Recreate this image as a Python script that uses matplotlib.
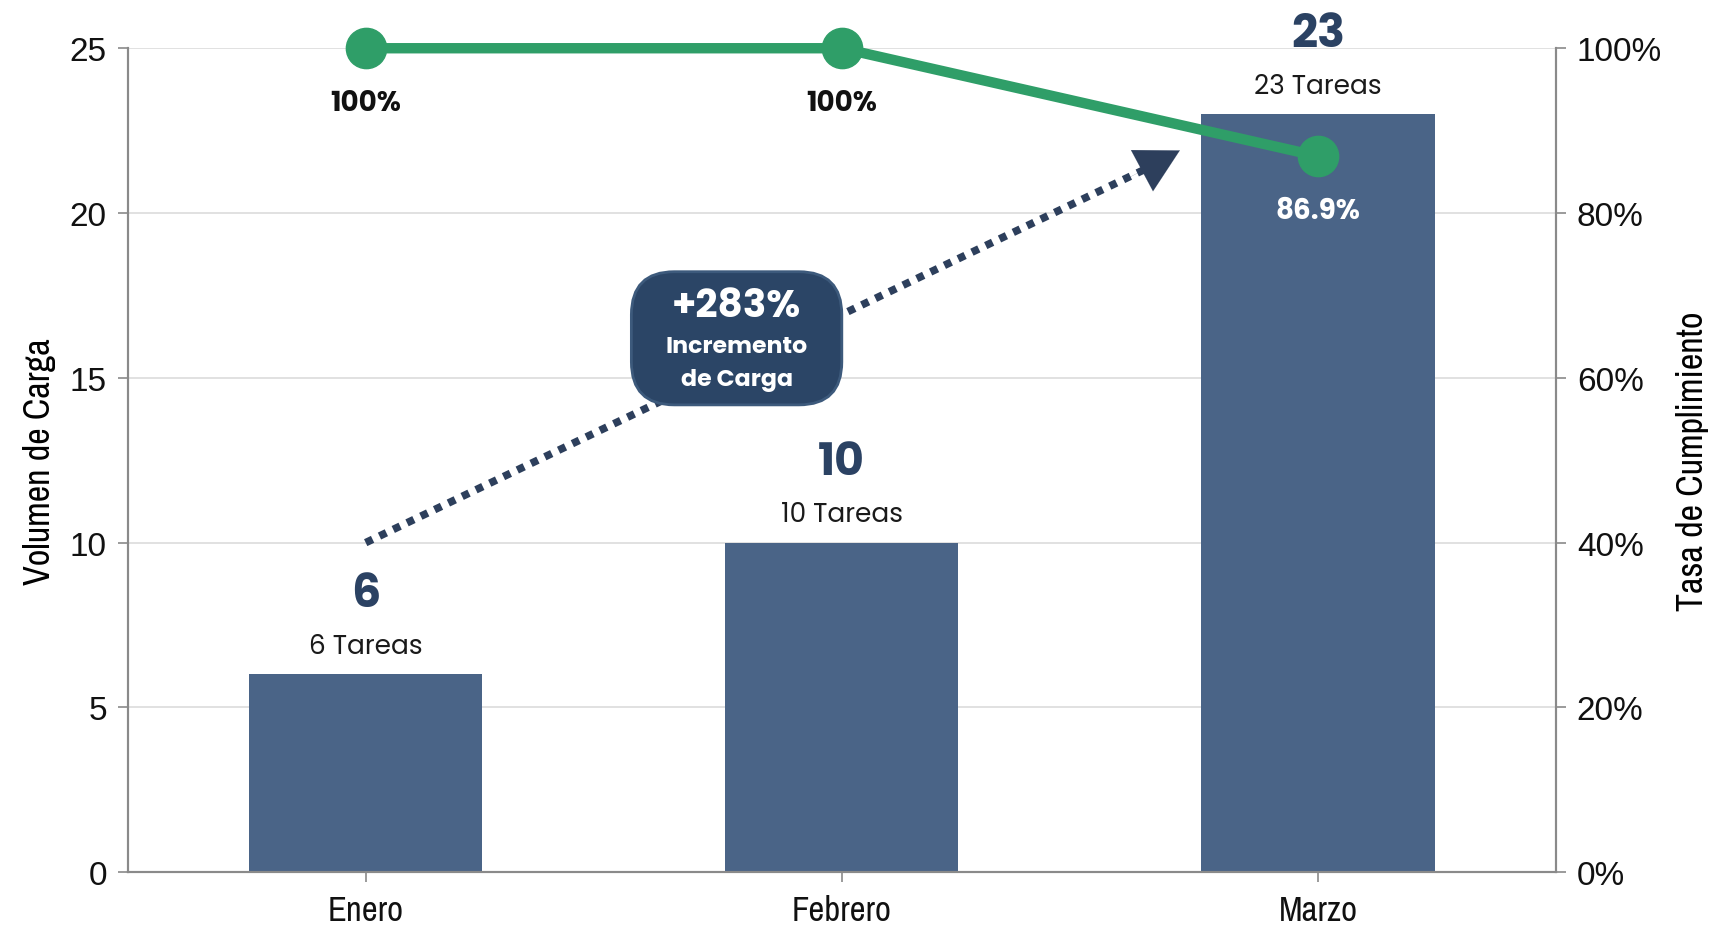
import matplotlib
matplotlib.use('Agg')
import matplotlib.pyplot as plt
from matplotlib.patches import FancyBboxPatch

# data
months = ['Enero', 'Febrero', 'Marzo']
tasks = [6, 10, 23]
completion = [100, 100, 86.9]
completion_labels = ['100%', '100%', '86.9%']
left_ticks = [0, 5, 10, 15, 20, 25]
right_ticks = [0, 20, 40, 60, 80, 100]
growth_label = '+283%'
growth_text = ['Incremento', 'de Carga']

bar_color = '#4a6487'
green = '#2f9e68'
navy = '#2b4566'
dots_color = '#2d3f5c'
axis_gray = '#8a8a8a'
label_font = ['Poppins', 'Open Sans', 'DejaVu Sans']
tick_font = ['Liberation Sans', 'DejaVu Sans']
narrow_font = ['Archivo Narrow', 'Liberation Sans', 'DejaVu Sans']

fig = plt.figure(figsize=(17.11, 9.29), dpi=100)
ax = fig.add_axes([0.0746, 0.060, 0.8348, 0.887])
ax2 = ax.twinx()

x = list(range(len(months)))

# bars
ax.bar(x, tasks, width=0.49, color=bar_color, zorder=2)
ax.set_xlim(-0.5, 2.5)
ax.set_ylim(0, 25)
ax.set_yticks(left_ticks)
ax.grid(axis='y', color='#dcdcdc', lw=1.2, zorder=0)
ax.set_axisbelow(True)

ax.set_xticks(x)
ax.set_xticklabels(months, fontfamily=narrow_font, fontsize=25)
ax.set_yticklabels([str(t) for t in left_ticks], fontfamily=tick_font, fontsize=24)
ax.set_ylabel('Volumen de Carga', fontfamily=narrow_font, fontsize=26, labelpad=10)

# right axis
ax2.set_ylim(0, 100)
ax2.set_yticks(right_ticks)
ax2.set_yticklabels([f'{t}%' for t in right_ticks], fontfamily=tick_font, fontsize=24)
ax2.set_ylabel('Tasa de Cumplimiento', fontfamily=narrow_font, fontsize=26, labelpad=10)

for a in (ax, ax2):
    a.spines['top'].set_visible(False)
    for s in ('left', 'right', 'bottom'):
        a.spines[s].set_color(axis_gray)
        a.spines[s].set_linewidth(1.5)
    a.tick_params(axis='both', length=7, width=1.2, color=axis_gray, pad=8, labelcolor='#111111')
ax.tick_params(axis='x', pad=9)

# completion line
ax2.plot(x, completion, color=green, lw=7.5, marker='o', markersize=29,
         solid_capstyle='round', zorder=5, clip_on=False)
for xi, val, lab in zip(x, completion, completion_labels):
    col = 'white' if val < 100 else '#111111'
    ax2.annotate(lab, (xi, val), xytext=(0, -40), textcoords='offset points',
                 ha='center', va='center', fontsize=20, fontweight='bold',
                 fontfamily=label_font, color=col, zorder=6)

# bar labels
for xi, t in zip(x, tasks):
    ax2.annotate(f'{t} Tareas', (xi, t), xycoords=ax.transData, xytext=(0, 20),
                 textcoords='offset points', ha='center', va='center',
                 fontsize=19, fontfamily=label_font, color='#1a1a1a', zorder=6)
    ax2.annotate(str(t), (xi, t), xycoords=ax.transData, xytext=(0, 57),
                 textcoords='offset points', ha='center', va='center',
                 fontsize=33, fontweight='bold', fontfamily=label_font,
                 color='#2b4263', zorder=6)

# dotted growth arrow
ax.plot([0, 1.64], [10, 21.35], color=dots_color, lw=5.5, linestyle=(0, (1, 1)),
        dash_capstyle='butt', zorder=3)
ax.annotate('', xy=(1.71, 21.9), xytext=(1.60, 21.05),
            arrowprops=dict(arrowstyle='-|>,head_length=1.1,head_width=0.6',
                            mutation_scale=28, color=dots_color, lw=0.1,
                            shrinkA=0, shrinkB=0), zorder=3)

# growth box
bw, bh = 0.442, 4.04
cx, cy = 0.779, 16.2
box = FancyBboxPatch((cx - bw / 2, cy - bh / 2), bw, bh,
                     boxstyle='round,pad=0,rounding_size=0.09',
                     mutation_aspect=14.5, fc=navy, ec='#3d5a7c', lw=2, zorder=4)
ax.add_patch(box)
ax.text(cx, 17.15, growth_label, ha='center', va='center', color='white',
        fontsize=28, fontweight='bold', fontfamily=label_font, zorder=5)
ax.text(cx, 15.95, growth_text[0], ha='center', va='center', color='white',
        fontsize=17, fontweight='bold', fontfamily=label_font, zorder=5)
ax.text(cx, 14.95, growth_text[1], ha='center', va='center', color='white',
        fontsize=17, fontweight='bold', fontfamily=label_font, zorder=5)

fig.savefig('out.png', dpi=100, facecolor='white')
